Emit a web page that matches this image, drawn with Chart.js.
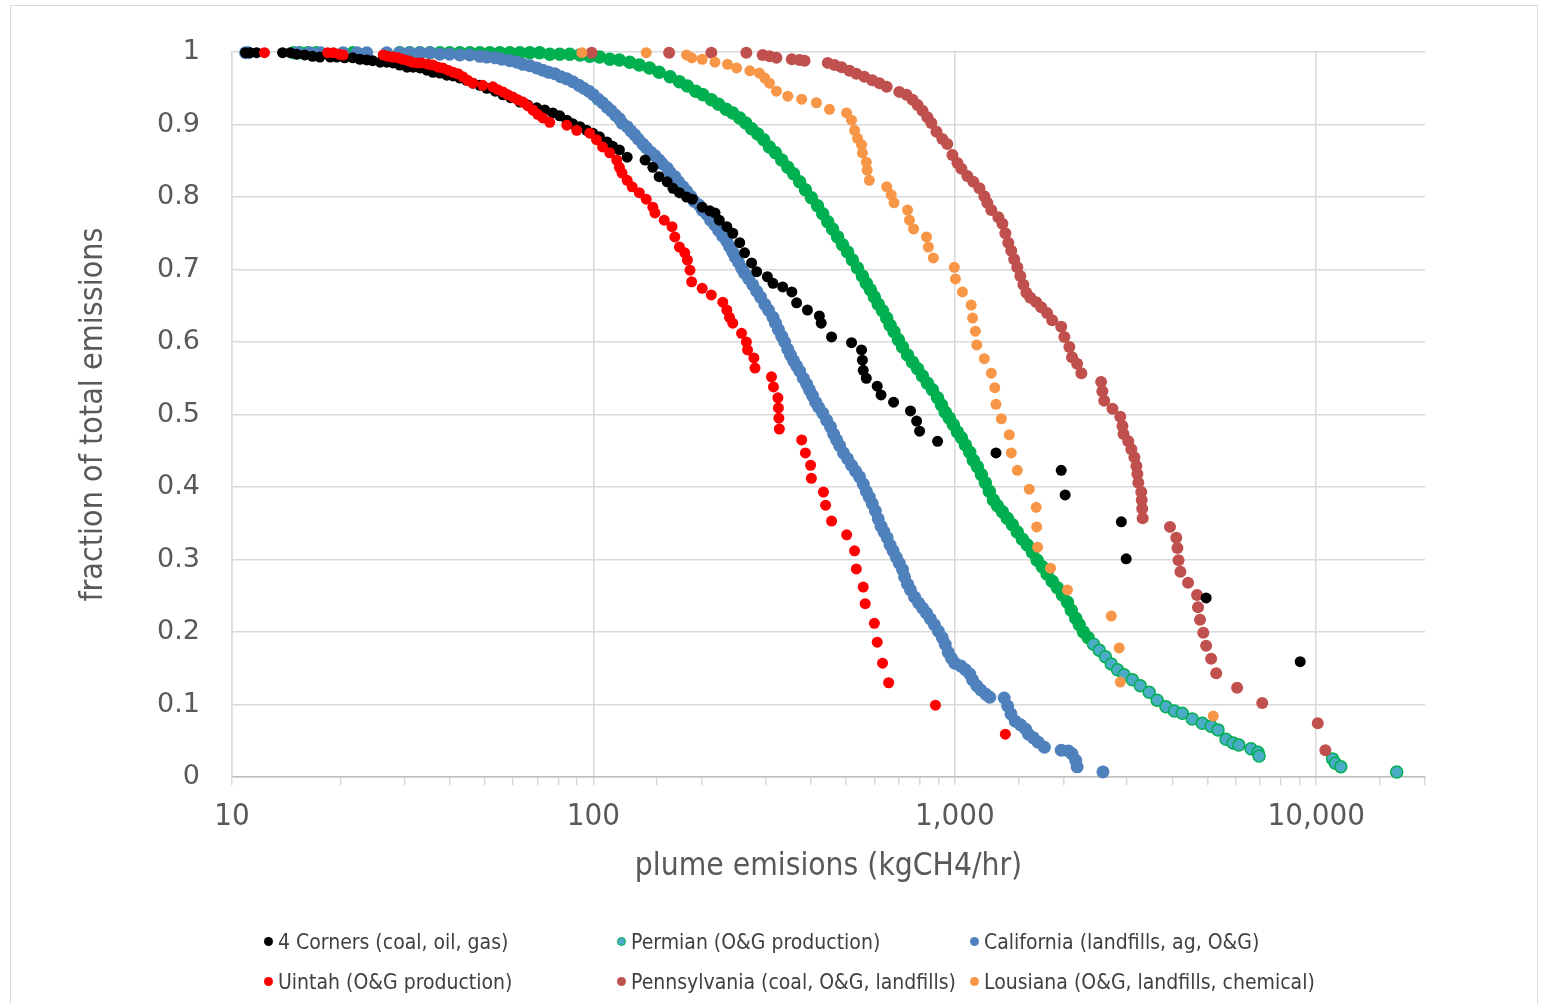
<!DOCTYPE html>
<html>
<head>
<meta charset="utf-8">
<script src="https://cdn.jsdelivr.net/npm/chart.js@4.4.1/dist/chart.umd.min.js"></script>
<style>
  body { margin: 0; background: #fff; }
  #wrap { position: relative; width: 1542px; height: 1004px; overflow: hidden; }
  #frame { position: absolute; left: 10px; top: 5px; width: 1526px; height: 1010px; border: 1px solid #d9d9d9; }
  canvas { position: absolute; left: 0; top: 0; }
  .leg { position: absolute; font-family: 'Liberation Sans Narrow', 'DejaVu Sans Condensed', sans-serif;
         font-size: 21px; color: #404040; white-space: nowrap; line-height: 24px; }
  .leg i { display: inline-block; width: 9px; height: 9px; border-radius: 50%; margin-right: 5px;
           vertical-align: middle; position: relative; top: -2px; box-sizing: border-box; }
</style>
</head>
<body>
<div id="wrap">
  <div id="frame"></div>
  <canvas id="chart" width="1542" height="1004"></canvas>
  <div id="legend"></div>
</div>
<script>
// series names (legend order)
const seriesNames = ['4 Corners (coal, oil, gas)', 'Permian (O&G production)', 'California (landfills, ag, O&G)',
                     'Uintah (O&G production)', 'Pennsylvania (coal, O&G, landfills)', 'Lousiana (O&G, landfills, chemical)'];
const xTitle = 'plume emisions (kgCH4/hr)';
const yTitle = 'fraction of total emissions';
const xTickLabels = ['10', '100', '1,000', '10,000'];
const yTickLabels = ['0', '0.1', '0.2', '0.3', '0.4', '0.5', '0.6', '0.7', '0.8', '0.9', '1'];

// 4 Corners
const cornersX = [10.9,11.2,11.7,13.8,14.5,15.1,15.9,16.7,17.5,18.7,19.5,20.5,21.6,22.6,23.6,24.5,25.7,26.8,27.9,29.1,
  30.5,31.7,33.1,34.6,36.0,37.6,39.3,40.9,42.7,44.6,46.4,48.5,50.7,53.5,56.2,59.0,62.6,65.8,69.7,73.3,
  77.2,80.7,84.4,87.7,91.8,95.8,99.6,104,109,113,118,124,139,146,152,160,166,173,181,188,
  200,210,217,223,234,243,254,262,274,283,303,314,334,354,365,391,422,427,456,518,
  552,555,558,569,610,625,677,754,784,799,896,1300,1970,2020,2890,2980,4960,9030];
const cornersY = [0.999,0.999,0.999,0.999,0.999,0.997,0.996,0.994,0.993,0.993,0.993,0.992,0.992,0.990,0.989,0.988,0.986,0.986,0.985,0.982,
  0.979,0.979,0.978,0.975,0.972,0.971,0.968,0.967,0.964,0.961,0.957,0.954,0.950,0.946,0.941,0.937,0.931,0.927,0.923,0.920,
  0.916,0.912,0.906,0.901,0.897,0.892,0.888,0.883,0.876,0.870,0.865,0.855,0.851,0.841,0.828,0.821,0.812,0.806,0.800,0.797,
  0.786,0.781,0.778,0.768,0.759,0.750,0.737,0.723,0.709,0.697,0.690,0.681,0.676,0.669,0.654,0.644,0.636,0.626,0.607,0.599,
  0.589,0.575,0.561,0.550,0.539,0.527,0.517,0.505,0.491,0.477,0.463,0.447,0.423,0.389,0.352,0.301,0.247,0.159];

// Permian
const permianX = [14.8,15.4,16.2,17.1,21.6,29.1,31.0,33.1,35.3,37.6,40.0,42.7,45.5,48.5,51.7,55.1,58.7,62.6,66.7,71.0,
  75.7,80.7,86.0,91.8,97.7,104,111,118,126,134,143,152,163,173,182,192,201,212,222,233,
  243,254,264,274,285,296,307,319,332,345,358,372,386,401,417,431,445,459,474,489,
  505,521,538,555,569,584,599,614,631,648,662,679,698,717,740,764,789,814,840,867,
  896,919,941,966,991,1017,1043,1070,1100,1125,1155,1185,1215,1246,1279,1312,1354,1397,1443,1489,
  1538,1588,1640,1690,1746,1800,1860,1922,1986,2050,2100,2160,2210,2270,2340,2420,2510,2610,2710,2820,
  2940,3100,3260,3450,3630,3840,4050,4260,4540,4840,5120,5350,5630,5890,6110,6600,6900,6950,11100,11300,
  11700,16700];
const permianY = [0.999,0.999,0.999,0.999,0.999,0.999,0.999,0.999,0.999,0.999,0.999,0.999,0.999,0.999,0.999,0.999,0.999,0.999,0.999,0.999,
  0.997,0.997,0.997,0.996,0.994,0.993,0.990,0.989,0.986,0.982,0.978,0.972,0.966,0.959,0.953,0.946,0.941,0.934,0.928,0.921,
  0.916,0.909,0.902,0.894,0.887,0.879,0.869,0.861,0.851,0.841,0.832,0.821,0.810,0.799,0.788,0.777,0.766,0.756,0.745,0.734,
  0.724,0.713,0.702,0.691,0.681,0.672,0.662,0.652,0.643,0.633,0.623,0.614,0.603,0.593,0.582,0.572,0.563,0.553,0.543,0.534,
  0.523,0.513,0.503,0.495,0.486,0.476,0.468,0.458,0.448,0.437,0.428,0.417,0.406,0.394,0.382,0.374,0.366,0.357,0.348,0.338,
  0.328,0.320,0.310,0.299,0.290,0.280,0.270,0.261,0.251,0.241,0.230,0.219,0.210,0.200,0.192,0.183,0.175,0.166,0.156,0.148,
  0.141,0.134,0.126,0.117,0.106,0.097,0.091,0.088,0.080,0.074,0.070,0.065,0.052,0.047,0.044,0.039,0.034,0.029,0.025,0.019,
  0.014,0.007];

// California
const californiaX = [10.9,11.1,15.2,16.4,17.6,20.3,22.2,23.6,26.8,29.1,31.0,33.1,35.3,37.6,40.0,42.7,45.5,48.5,50.7,53.5,
  55.8,58.7,61.4,63.8,66.7,69.7,72.4,75.2,78.2,81.2,84.4,87.7,91.2,94.0,97.1,100,103,106,109,112,
  115,118,120,124,127,130,133,137,140,144,148,152,155,160,163,168,172,177,181,186,
  190,196,200,206,211,217,222,228,234,238,243,247,252,257,262,269,276,283,290,298,
  305,314,319,325,332,338,345,351,358,365,372,381,389,396,404,412,420,431,442,453,
  462,471,480,492,505,518,531,545,558,569,580,591,603,614,625,637,650,662,675,689,
  702,717,726,740,754,774,794,814,835,856,878,901,924,941,959,978,1000,1040,1070,1100,
  1120,1150,1180,1220,1250,1370,1400,1430,1470,1520,1570,1600,1650,1700,1770,1970,2060,2110,2160,2180,
  2570];
const californiaY = [0.999,0.999,0.999,0.999,0.999,0.999,0.999,0.999,0.999,0.999,0.999,0.999,0.999,0.997,0.997,0.996,0.996,0.994,0.993,0.992,
  0.990,0.988,0.986,0.983,0.981,0.978,0.975,0.972,0.970,0.966,0.963,0.959,0.954,0.950,0.946,0.941,0.935,0.930,0.924,0.919,
  0.913,0.908,0.902,0.897,0.891,0.886,0.880,0.873,0.868,0.862,0.857,0.851,0.846,0.840,0.834,0.828,0.821,0.814,0.808,0.801,
  0.794,0.789,0.782,0.776,0.768,0.761,0.754,0.746,0.739,0.732,0.724,0.717,0.710,0.702,0.695,0.687,0.679,0.670,0.662,0.652,
  0.644,0.634,0.626,0.617,0.608,0.600,0.590,0.582,0.574,0.567,0.560,0.550,0.542,0.534,0.526,0.517,0.510,0.502,0.492,0.483,
  0.473,0.465,0.457,0.447,0.439,0.430,0.422,0.414,0.404,0.394,0.386,0.377,0.367,0.356,0.346,0.338,0.330,0.320,0.312,0.303,
  0.295,0.286,0.276,0.266,0.258,0.248,0.240,0.233,0.226,0.218,0.210,0.201,0.192,0.183,0.172,0.164,0.157,0.153,0.148,0.142,
  0.134,0.126,0.120,0.114,0.110,0.109,0.098,0.087,0.077,0.072,0.066,0.059,0.054,0.048,0.041,0.037,0.036,0.032,0.023,0.014,
  0.007];

// Uintah
const uintahX = [12.3,18.4,19.1,19.8,20.3,26.2,27.0,27.9,28.8,29.7,30.7,31.5,32.5,33.5,34.9,36.0,37.2,38.3,39.6,40.9,
  42.2,43.5,44.9,46.4,49.4,52.7,54.4,56.2,58.0,59.8,61.8,63.8,65.8,68.0,70.1,72.4,75.7,84.4,89.9,97.7,
  102,106,111,116,118,120,124,128,134,140,146,148,157,165,168,173,179,182,185,187,
  200,212,228,234,238,243,257,265,267,278,280,311,315,324,325,326,327,377,386,399,
  401,433,439,456,502,528,534,558,565,599,610,631,656,884,1380];
const uintahY = [0.999,0.999,0.999,0.997,0.996,0.996,0.994,0.993,0.992,0.990,0.988,0.986,0.985,0.985,0.983,0.982,0.979,0.978,0.975,0.972,
  0.970,0.966,0.961,0.957,0.954,0.952,0.948,0.945,0.941,0.938,0.934,0.931,0.926,0.920,0.914,0.909,0.903,0.899,0.892,0.888,
  0.879,0.869,0.861,0.851,0.841,0.833,0.823,0.814,0.806,0.797,0.786,0.778,0.768,0.759,0.745,0.731,0.723,0.713,0.699,0.683,
  0.674,0.665,0.655,0.644,0.634,0.626,0.612,0.600,0.589,0.578,0.564,0.552,0.538,0.523,0.509,0.495,0.480,0.465,0.447,0.430,
  0.412,0.393,0.375,0.353,0.334,0.312,0.287,0.262,0.239,0.212,0.186,0.157,0.130,0.099,0.059];

// Pennsylvania
const pennX = [98.9,162,212,265,294,307,321,354,372,384,445,465,486,511,534,562,591,619,648,702,
  735,764,789,814,840,861,890,924,953,985,1017,1043,1083,1125,1170,1207,1230,1262,1320,1354,
  1380,1406,1433,1460,1489,1518,1548,1578,1618,1680,1735,1800,1860,1970,2010,2075,2110,2180,2240,2540,
  2560,2590,2730,2870,2910,2930,3020,3080,3140,3180,3200,3220,3280,3290,3300,3310,3940,4100,4130,4160,
  4210,4420,4680,4710,4770,4870,4960,5120,5290,6040,7090,10100,10600];
const pennY = [0.999,0.999,0.999,0.999,0.996,0.994,0.992,0.990,0.989,0.988,0.985,0.982,0.979,0.974,0.970,0.966,0.961,0.957,0.952,0.945,
  0.941,0.934,0.927,0.919,0.910,0.902,0.890,0.880,0.873,0.858,0.847,0.839,0.829,0.821,0.812,0.801,0.792,0.782,0.772,0.763,
  0.750,0.737,0.726,0.714,0.703,0.691,0.679,0.668,0.661,0.655,0.648,0.640,0.630,0.621,0.607,0.593,0.579,0.570,0.557,0.545,
  0.532,0.519,0.508,0.497,0.484,0.473,0.463,0.452,0.441,0.429,0.418,0.406,0.393,0.382,0.370,0.357,0.345,0.330,0.316,0.299,
  0.283,0.268,0.251,0.234,0.217,0.199,0.181,0.163,0.143,0.123,0.102,0.074,0.037];

// Lousiana
const louisianaX = [92.9,140,181,187,200,217,235,249,271,288,298,307,321,345,377,414,450,502,518,528,
  538,552,555,569,572,580,648,667,679,740,749,769,835,845,872,997,1004,1050,1110,1120,
  1140,1150,1207,1262,1290,1300,1345,1415,1433,1489,1607,1680,1685,1695,1840,2050,2710,2850,2870,5190];
const louisianaY = [0.999,0.999,0.996,0.992,0.990,0.986,0.983,0.978,0.974,0.971,0.964,0.957,0.946,0.939,0.935,0.930,0.921,0.916,0.906,0.892,
  0.881,0.872,0.861,0.848,0.837,0.823,0.814,0.803,0.792,0.782,0.768,0.756,0.745,0.731,0.716,0.703,0.687,0.669,0.651,0.633,
  0.615,0.596,0.577,0.557,0.537,0.514,0.494,0.472,0.447,0.423,0.397,0.372,0.345,0.317,0.288,0.258,0.222,0.178,0.131,0.084];

const toPts = (xs, ys) => xs.map((x, i) => ({ x: x, y: ys[i] }));
const narrow = "'Liberation Sans Narrow', 'DejaVu Sans Condensed', sans-serif";
const isDecade = v => Math.abs(Math.log10(v) - Math.round(Math.log10(v))) < 1e-6;

const colors = ['#000000', '#00B050', '#4F81BD', '#FF0000', '#C0504D', '#F79646'];
const permianFill = '#4BACC6';

// draw order: lower `order` ends up on top
const datasets = [
  { label: seriesNames[3], data: toPts(uintahX, uintahY), backgroundColor: colors[3], pointRadius: 5.5, order: 1 },
  { label: seriesNames[0], data: toPts(cornersX, cornersY), backgroundColor: colors[0], pointRadius: 5.5, order: 2 },
  { label: seriesNames[5], data: toPts(louisianaX, louisianaY), backgroundColor: colors[5], pointRadius: 5.5, order: 3 },
  { label: seriesNames[2], data: toPts(californiaX, californiaY), backgroundColor: colors[2], pointRadius: 6.5, order: 4 },
  { label: seriesNames[4], data: toPts(pennX, pennY), backgroundColor: colors[4], pointRadius: 6, order: 5 },
  { label: seriesNames[1], data: toPts(permianX, permianY), order: 6, pointRadius: 6,
    pointBackgroundColor: c => (c.raw && (c.raw.x < 20 || c.raw.y < 0.19)) ? permianFill : colors[1],
    pointBorderColor: colors[1], pointBorderWidth: 1.5 }
];
datasets.forEach(d => { d.clip = false; if (d.pointBorderWidth === undefined) d.pointBorderWidth = 0; });

new Chart(document.getElementById('chart'), {
  type: 'scatter',
  data: { datasets: datasets },
  options: {
    responsive: false,
    animation: false,
    events: [],
    layout: { padding: { left: 0, top: 52, right: 117, bottom: 117 } },
    plugins: { legend: { display: false }, tooltip: { enabled: false } },
    scales: {
      x: {
        type: 'logarithmic',
        min: 10,
        max: 20000,
        afterFit: s => { s.height = 110; },
        grid: {
          color: c => (c.tick && isDecade(c.tick.value)) ? '#d9d9d9' : 'rgba(0,0,0,0)',
          tickColor: '#d9d9d9',
          tickLength: 8,
          lineWidth: 1.5
        },
        border: { color: '#bfbfbf', width: 1.5 },
        ticks: {
          autoSkip: false,
          maxRotation: 0,
          padding: 13,
          color: '#595959',
          font: { family: narrow, size: 31 },
          callback: v => isDecade(v) ? xTickLabels[Math.round(Math.log10(v)) - 1] : ''
        },
        title: { display: true, text: xTitle, color: '#595959', font: { family: narrow, size: 31.5 }, padding: { top: 0, bottom: 1 } }
      },
      y: {
        min: 0,
        max: 1,
        afterFit: s => { s.width = 232; },
        grid: { color: '#d9d9d9', lineWidth: 1.5, drawTicks: false },
        border: { color: '#d9d9d9', width: 1.5 },
        ticks: {
          stepSize: 0.1,
          padding: 32,
          color: '#595959',
          font: { family: 'DejaVu Sans', size: 27 },
          callback: (v, i) => yTickLabels[i]
        },
        title: { display: true, text: yTitle, color: '#595959', font: { family: narrow, size: 32 }, padding: { top: 74, bottom: 0 } }
      }
    }
  }
});

// legend, 3 columns x 2 rows like the original
const legCols = [264, 617, 970];
const legRows = [930, 970];
const legend = document.getElementById('legend');
seriesNames.forEach((name, i) => {
  const el = document.createElement('div');
  el.className = 'leg';
  el.style.left = legCols[i % 3] + 'px';
  el.style.top = legRows[Math.floor(i / 3)] + 'px';
  const dot = document.createElement('i');
  if (i === 1) {
    dot.style.background = permianFill;
    dot.style.border = '1.5px solid ' + colors[1];
  } else {
    dot.style.background = colors[i];
  }
  el.appendChild(dot);
  el.appendChild(document.createTextNode(name));
  legend.appendChild(el);
});
</script>
</body>
</html>
